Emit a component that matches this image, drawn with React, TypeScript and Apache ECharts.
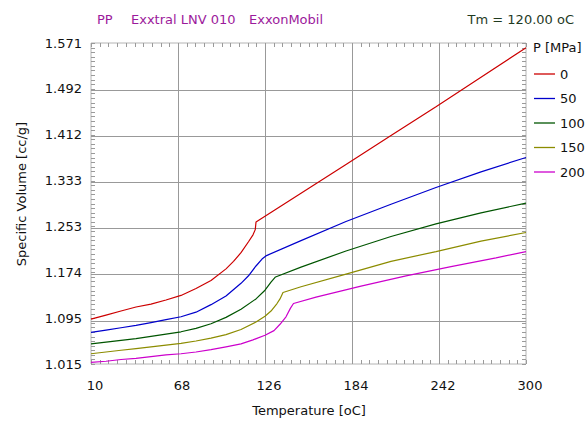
import React, { useEffect, useRef } from "react";
import * as echarts from "echarts";

const pressureLabels = ["0", "50", "100", "150", "200"];
const lineColors = ["#cc0000", "#0000cc", "#005500", "#8c8c00", "#cc00cc"];

const xTicks = [10, 68, 126, 184, 242, 300];
const yTickValues = [1.0152, 1.0946, 1.1741, 1.2535, 1.333, 1.4124, 1.4919, 1.5713];
const yTickLabels = ["1.015", "1.095", "1.174", "1.253", "1.333", "1.412", "1.492", "1.571"];

const v0: [number, number][] = [
  [10, 1.093], [20, 1.1], [30, 1.107], [40, 1.114], [50, 1.119], [60, 1.126], [70, 1.134],
  [80, 1.146], [90, 1.16], [100, 1.18], [105, 1.193], [110, 1.208], [115, 1.227], [118, 1.239],
  [119.5, 1.248], [120, 1.261], [150, 1.311], [180, 1.361], [210, 1.411], [240, 1.461],
  [270, 1.512], [300, 1.563],
];
const v50: [number, number][] = [
  [10, 1.07], [20, 1.074], [30, 1.078], [40, 1.082], [50, 1.087], [60, 1.092], [70, 1.097],
  [80, 1.105], [90, 1.118], [100, 1.133], [110, 1.155], [115, 1.168], [120, 1.185], [124, 1.197],
  [127, 1.203], [150, 1.229], [180, 1.262], [210, 1.292], [240, 1.321], [270, 1.348], [300, 1.373],
];
const v100: [number, number][] = [
  [10, 1.05], [20, 1.053], [30, 1.056], [40, 1.059], [50, 1.063], [60, 1.067], [70, 1.071],
  [80, 1.077], [90, 1.085], [100, 1.096], [110, 1.11], [120, 1.128], [126, 1.143], [130, 1.157],
  [133, 1.166], [150, 1.183], [180, 1.211], [210, 1.236], [240, 1.258], [270, 1.277], [300, 1.294],
];
const v150: [number, number][] = [
  [10, 1.033], [20, 1.036], [30, 1.039], [40, 1.042], [50, 1.045], [60, 1.048], [70, 1.051],
  [80, 1.055], [90, 1.06], [100, 1.066], [110, 1.075], [120, 1.088], [126, 1.098], [130, 1.107],
  [134, 1.12], [136, 1.128], [138, 1.139], [150, 1.149], [180, 1.171], [210, 1.193], [240, 1.21],
  [270, 1.228], [300, 1.243],
];
const v200: [number, number][] = [
  [10, 1.018], [20, 1.02], [30, 1.023], [40, 1.025], [50, 1.028], [60, 1.031], [70, 1.033],
  [80, 1.036], [90, 1.04], [100, 1.045], [110, 1.05], [118, 1.057], [126, 1.065], [132, 1.073],
  [136, 1.084], [140, 1.097], [143, 1.112], [145, 1.12], [160, 1.131], [190, 1.15], [220, 1.168],
  [250, 1.184], [280, 1.199], [300, 1.21],
];
const seriesData = [v0, v50, v100, v150, v200];

const FONT = "DejaVu Sans";

function subdivide(ticks: number[], n: number): number[] {
  const out: number[] = [];
  for (let i = 0; i < ticks.length - 1; i++) {
    for (let k = 0; k < n; k++) out.push(ticks[i] + ((ticks[i + 1] - ticks[i]) * k) / n);
  }
  out.push(ticks[ticks.length - 1]);
  return out;
}

export default function App() {
  const ref = useRef<HTMLDivElement>(null);
  useEffect(() => {
    if (!ref.current) return;
    const chart = echarts.init(ref.current, null, { renderer: "svg" });
    const xMin = xTicks[0];
    const xMax = xTicks[xTicks.length - 1];
    const yMin = yTickValues[0];
    const yMax = yTickValues[yTickValues.length - 1];
    const xMinor = subdivide(xTicks, 10);
    const yMinor = subdivide(yTickValues, 10);
    const TICK = 4;
    const TICK_COLOR = "#9a9a9a";
    const GRID_COLOR = "#999999";

    const baseGraphics: any[] = [
      {
        type: "text",
        x: 97,
        y: 19,
        style: { text: "PP", fontFamily: FONT, fontSize: 13, fill: "#9c1a9c", verticalAlign: "middle" },
      },
      {
        type: "text",
        x: 131,
        y: 19,
        style: { text: "Exxtral LNV 010", fontFamily: FONT, fontSize: 13, fill: "#9c1a9c", verticalAlign: "middle" },
      },
      {
        type: "text",
        x: 249,
        y: 19,
        style: { text: "ExxonMobil", fontFamily: FONT, fontSize: 13, fill: "#9c1a9c", verticalAlign: "middle" },
      },
      {
        type: "text",
        x: 574,
        y: 19,
        style: { text: "Tm = 120.00 oC", fontFamily: FONT, fontSize: 13, fill: "#1f3a1f", align: "right", verticalAlign: "middle" },
      },
      {
        type: "text",
        x: 21,
        y: 194,
        rotation: Math.PI / 2,
        style: { text: "Specific Volume [cc/g]", fontFamily: FONT, fontSize: 13, fill: "#111", align: "center", verticalAlign: "middle" },
      },
      {
        type: "text",
        x: 309,
        y: 410,
        style: { text: "Temperature [oC]", fontFamily: FONT, fontSize: 13, fill: "#111", align: "center", verticalAlign: "middle" },
      },
      {
        type: "text",
        x: 533,
        y: 47,
        style: { text: "P [MPa]", fontFamily: FONT, fontSize: 13, fill: "#111", verticalAlign: "middle" },
      },
    ];
    pressureLabels.forEach((label, i) => {
      const y = 74 + i * 24.5;
      baseGraphics.push({
        type: "line",
        shape: { x1: 534, y1: y, x2: 555, y2: y },
        style: { stroke: lineColors[i], lineWidth: 1.3 },
      });
      baseGraphics.push({
        type: "text",
        x: 560,
        y,
        style: { text: label, fontFamily: FONT, fontSize: 13, fill: "#111", verticalAlign: "middle" },
      });
    });

    const gridMarkLine = {
      silent: true,
      symbol: ["none", "none"],
      label: { show: false },
      lineStyle: { color: GRID_COLOR, width: 1, type: "solid" },
      emphasis: { disabled: true },
      data: [
        ...xTicks.slice(1, -1).map((x) => ({ xAxis: x })),
        ...yTickValues.slice(1, -1).map((y) => ({ yAxis: y })),
      ],
    };

    chart.setOption({
      animation: false,
      backgroundColor: "#ffffff",
      grid: {
        left: 91,
        top: 43,
        right: 59,
        bottom: 58,
        show: true,
        borderColor: "#b4b4b4",
        borderWidth: 1,
      },
      xAxis: {
        type: "value",
        min: xMin,
        max: xMax,
        axisLine: { show: false },
        axisTick: { show: false, customValues: xTicks },
        axisLabel: {
          customValues: xTicks,
          margin: 15,
          fontFamily: FONT,
          fontSize: 13,
          color: "#111",
          padding: [0, 0, 0, 8],
        },
        splitLine: { show: false },
      },
      yAxis: {
        type: "value",
        min: yMin,
        max: yMax,
        axisLine: { show: false },
        axisTick: { show: false, customValues: yTickValues },
        axisLabel: {
          customValues: yTickValues,
          margin: 9,
          fontFamily: FONT,
          fontSize: 13,
          color: "#111",
          formatter: (v: number) => {
            let best = 0;
            for (let i = 0; i < yTickValues.length; i++) {
              if (Math.abs(yTickValues[i] - v) < Math.abs(yTickValues[best] - v)) best = i;
            }
            return yTickLabels[best];
          },
        },
        splitLine: { show: false },
      },
      graphic: baseGraphics,
      series: seriesData.map((d, i) => ({
        type: "line",
        name: pressureLabels[i],
        data: d,
        symbol: "none",
        z: 10,
        lineStyle: { color: lineColors[i], width: 1.2 },
        itemStyle: { color: lineColors[i] },
        ...(i === 0 ? { markLine: gridMarkLine } : {}),
      })),
    });

    // small inside ticks on the four sides of the frame, placed through the chart's own scales
    const tickGraphics: any[] = [];
    const toPx = (p: number[]) => chart.convertToPixel({ gridIndex: 0 }, p) as number[];
    xMinor.forEach((x) => {
      const b = toPx([x, yMin]);
      const t = toPx([x, yMax]);
      if (!b || !t) return;
      const px = Math.round(b[0]) + 0.5;
      tickGraphics.push({ type: "line", silent: true, shape: { x1: px, y1: b[1], x2: px, y2: b[1] - TICK }, style: { stroke: TICK_COLOR, lineWidth: 1 } });
      tickGraphics.push({ type: "line", silent: true, shape: { x1: px, y1: t[1], x2: px, y2: t[1] + TICK }, style: { stroke: TICK_COLOR, lineWidth: 1 } });
    });
    yMinor.forEach((y) => {
      const l = toPx([xMin, y]);
      const r = toPx([xMax, y]);
      if (!l || !r) return;
      const py = Math.round(l[1]) + 0.5;
      tickGraphics.push({ type: "line", silent: true, shape: { x1: l[0], y1: py, x2: l[0] + TICK, y2: py }, style: { stroke: TICK_COLOR, lineWidth: 1 } });
      tickGraphics.push({ type: "line", silent: true, shape: { x1: r[0], y1: py, x2: r[0] - TICK, y2: py }, style: { stroke: TICK_COLOR, lineWidth: 1 } });
    });
    chart.setOption({ graphic: [...baseGraphics, ...tickGraphics] });

    return () => chart.dispose();
  }, []);
  return <div ref={ref} style={{ position: "fixed", left: 0, top: 0, width: 585, height: 422 }} />;
}
